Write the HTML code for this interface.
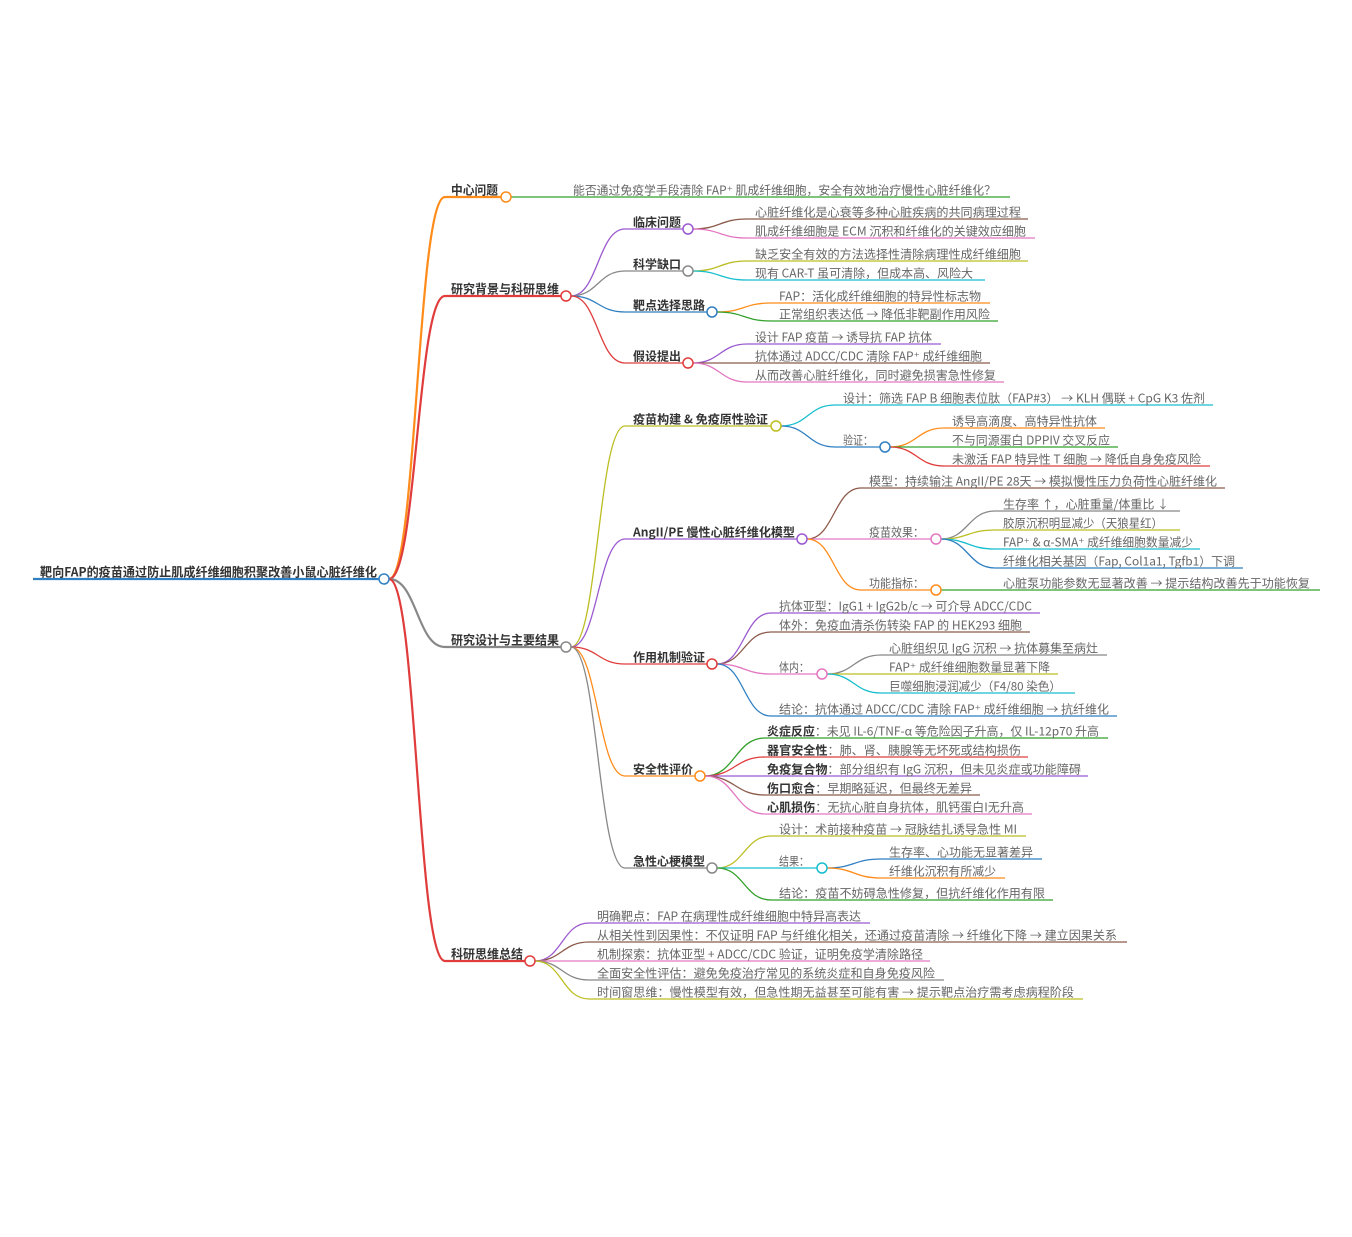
<!DOCTYPE html>
<html><head><meta charset="utf-8"><style>
html,body{margin:0;padding:0;background:#fff}
svg{display:block}
text{font-family:"Noto Sans CJK SC","Liberation Sans",sans-serif;font-size:12px;fill:#666;transform:translate(0px,1.5px)}
.b{font-weight:bold;fill:#333;font-size:12.5px}
.bt{font-weight:bold;fill:#333}
tspan.bt{transform:none}
path{fill:none;stroke-width:1.3}
.t{stroke-width:2.2}
circle{fill:#fff;stroke-width:1.5}
</style></head><body>
<svg width="1352" height="1237" viewBox="0 0 1352 1237" xmlns="http://www.w3.org/2000/svg">
<rect width="1352" height="1237" fill="#fff"/>
<!-- root -->
<path class="t" d="M33 579 L379 579" stroke="#2f7fc1"/>
<text class="b" x="40" y="575" textLength="337" lengthAdjust="spacingAndGlyphs">靶向FAP的疫苗通过防止肌成纤维细胞积聚改善小鼠心脏纤维化</text>

<!-- level1 -->
<path class="t" d="M389 579 C417 579 417 197 445 197 L501 197" stroke="#ff8c1a"/>
<path class="t" d="M389 579 C417 579 417 296 445 296 L561 296" stroke="#e03c3c"/>
<path class="t" d="M389 579 C417 579 417 647 445 647 L561 647" stroke="#888"/>
<path class="t" d="M389 579 C417 579 417 961 445 961 L525 961" stroke="#e03c3c"/>
<text class="b" x="451" y="193" textLength="47" lengthAdjust="spacingAndGlyphs">中心问题</text>
<text class="b" x="451" y="292" textLength="108" lengthAdjust="spacingAndGlyphs">研究背景与科研思维</text>
<text class="b" x="451" y="643" textLength="108" lengthAdjust="spacingAndGlyphs">研究设计与主要结果</text>
<text class="b" x="451" y="957" textLength="72" lengthAdjust="spacingAndGlyphs">科研思维总结</text>

<!-- 中心问题 leaf -->
<path d="M511 197 L1010 197" stroke="#33a02c"/>
<text x="573" y="193" textLength="423" lengthAdjust="spacingAndGlyphs">能否通过免疫学手段清除 FAP⁺ 肌成纤维细胞，安全有效地治疗慢性心脏纤维化？</text>

<!-- 研究背景 children -->
<path d="M571 296 C598 296 598 229 625 229 L683 229" stroke="#9b59d0"/>
<path d="M571 296 C598 296 598 271 625 271 L683 271" stroke="#888"/>
<path d="M571 296 C598 296 598 312 625 312 L707 312" stroke="#2f7fc1"/>
<path d="M571 296 C598 296 598 363 625 363 L683 363" stroke="#e03c3c"/>
<text class="bt" x="633" y="225" textLength="48" lengthAdjust="spacingAndGlyphs">临床问题</text>
<text class="bt" x="633" y="267" textLength="48" lengthAdjust="spacingAndGlyphs">科学缺口</text>
<text class="bt" x="633" y="308" textLength="72" lengthAdjust="spacingAndGlyphs">靶点选择思路</text>
<text class="bt" x="633" y="359" textLength="48" lengthAdjust="spacingAndGlyphs">假设提出</text>

<path d="M693 229 C720 229 720 219 747 219 L1028 219" stroke="#8c5a4a"/>
<path d="M693 229 C720 229 720 238 747 238 L1035 238" stroke="#e377c2"/>
<text x="755" y="215" textLength="266" lengthAdjust="spacingAndGlyphs">心脏纤维化是心衰等多种心脏疾病的共同病理过程</text>
<text x="755" y="234" textLength="271" lengthAdjust="spacingAndGlyphs">肌成纤维细胞是 ECM 沉积和纤维化的关键效应细胞</text>
<path d="M693 271 C720 271 720 261 747 261 L1028 261" stroke="#bcbd22"/>
<path d="M693 271 C720 271 720 280 747 280 L985 280" stroke="#17becf"/>
<text x="755" y="257" textLength="266" lengthAdjust="spacingAndGlyphs">缺乏安全有效的方法选择性清除病理性成纤维细胞</text>
<text x="755" y="276" textLength="218" lengthAdjust="spacingAndGlyphs">现有 CAR-T 虽可清除，但成本高、风险大</text>
<path d="M717 312 C744 312 744 303 771 303 L990 303" stroke="#ff8c1a"/>
<path d="M717 312 C744 312 744 321 771 321 L998 321" stroke="#33a02c"/>
<text x="779" y="299" textLength="202" lengthAdjust="spacingAndGlyphs">FAP：活化成纤维细胞的特异性标志物</text>
<text x="779" y="317" textLength="211" lengthAdjust="spacingAndGlyphs">正常组织表达低 → 降低非靶副作用风险</text>
<path d="M693 363 C720 363 720 344 747 344 L941 344" stroke="#9b59d0"/>
<path d="M693 363 C720 363 720 363 747 363 L990 363" stroke="#8c5a4a"/>
<path d="M693 363 C720 363 720 382 747 382 L1004 382" stroke="#e377c2"/>
<text x="755" y="340" textLength="177" lengthAdjust="spacingAndGlyphs">设计 FAP 疫苗 → 诱导抗 FAP 抗体</text>
<text x="755" y="359" textLength="227" lengthAdjust="spacingAndGlyphs">抗体通过 ADCC/CDC 清除 FAP⁺ 成纤维细胞</text>
<text x="755" y="378" textLength="241" lengthAdjust="spacingAndGlyphs">从而改善心脏纤维化，同时避免损害急性修复</text>

<!-- 研究设计 children -->
<path d="M571 647 C598 647 598 426 625 426 L771 426" stroke="#bcbd22"/>
<path d="M571 647 C598 647 598 539 625 539 L797 539" stroke="#9b59d0"/>
<path d="M571 647 C598 647 598 664 625 664 L707 664" stroke="#e03c3c"/>
<path d="M571 647 C598 647 598 776 625 776 L695 776" stroke="#ff8c1a"/>
<path d="M571 647 C598 647 598 868 625 868 L707 868" stroke="#888"/>
<text class="bt" x="633" y="422" textLength="135" lengthAdjust="spacingAndGlyphs">疫苗构建 &amp; 免疫原性验证</text>
<text class="bt" x="633" y="535" textLength="162" lengthAdjust="spacingAndGlyphs">AngII/PE 慢性心脏纤维化模型</text>
<text class="bt" x="633" y="660" textLength="72" lengthAdjust="spacingAndGlyphs">作用机制验证</text>
<text class="bt" x="633" y="772" textLength="60" lengthAdjust="spacingAndGlyphs">安全性评价</text>
<text class="bt" x="633" y="864" textLength="72" lengthAdjust="spacingAndGlyphs">急性心梗模型</text>

<!-- 疫苗构建 -->
<path d="M781 426 C808 426 808 405 835 405 L1213 405" stroke="#17becf"/>
<path d="M781 426 C808 426 808 447 835 447 L880 447" stroke="#2f7fc1"/>
<text x="843" y="401" textLength="362" lengthAdjust="spacingAndGlyphs">设计：筛选 FAP B 细胞表位肽（FAP#3） → KLH 偶联 + CpG K3 佐剂</text>
<text x="843" y="443" textLength="30" lengthAdjust="spacingAndGlyphs">验证：</text>
<path d="M890 447 C917 447 917 428 944 428 L1105 428" stroke="#ff8c1a"/>
<path d="M890 447 C917 447 917 447 944 447 L1118 447" stroke="#33a02c"/>
<path d="M890 447 C917 447 917 466 944 466 L1210 466" stroke="#e03c3c"/>
<text x="952" y="424" textLength="145" lengthAdjust="spacingAndGlyphs">诱导高滴度、高特异性抗体</text>
<text x="952" y="443" textLength="158" lengthAdjust="spacingAndGlyphs">不与同源蛋白 DPPIV 交叉反应</text>
<text x="952" y="462" textLength="249" lengthAdjust="spacingAndGlyphs">未激活 FAP 特异性 T 细胞 → 降低自身免疫风险</text>

<!-- AngII -->
<path d="M807 539 C834 539 834 488 861 488 L1225 488" stroke="#8c5a4a"/>
<path d="M807 539 C834 539 834 539 861 539 L931 539" stroke="#e377c2"/>
<path d="M807 539 C834 539 834 590 861 590 L931 590" stroke="#ff8c1a"/>
<text x="869" y="484" textLength="348" lengthAdjust="spacingAndGlyphs">模型：持续输注 AngII/PE 28天 → 模拟慢性压力负荷性心脏纤维化</text>
<text x="869" y="535" textLength="55" lengthAdjust="spacingAndGlyphs">疫苗效果：</text>
<text x="869" y="586" textLength="55" lengthAdjust="spacingAndGlyphs">功能指标：</text>
<path d="M941 539 C968 539 968 511 995 511 L1180 511" stroke="#888"/>
<path d="M941 539 C968 539 968 530 995 530 L1180 530" stroke="#bcbd22"/>
<path d="M941 539 C968 539 968 549 995 549 L1200 549" stroke="#17becf"/>
<path d="M941 539 C968 539 968 568 995 568 L1243 568" stroke="#2f7fc1"/>
<path d="M941 590 L1320 590" stroke="#33a02c"/>
<text x="1003" y="507" textLength="166" lengthAdjust="spacingAndGlyphs">生存率 ↑，心脏重量/体重比 ↓</text>
<text x="1003" y="526" textLength="160" lengthAdjust="spacingAndGlyphs">胶原沉积明显减少（天狼星红）</text>
<text x="1003" y="545" textLength="190" lengthAdjust="spacingAndGlyphs">FAP⁺ &amp; α-SMA⁺ 成纤维细胞数量减少</text>
<text x="1003" y="564" textLength="232" lengthAdjust="spacingAndGlyphs">纤维化相关基因（Fap, Col1a1, Tgfb1）下调</text>
<text x="1003" y="586" textLength="307" lengthAdjust="spacingAndGlyphs">心脏泵功能参数无显著改善 → 提示结构改善先于功能恢复</text>

<!-- 作用机制 -->
<path d="M717 664 C744 664 744 613 771 613 L1040 613" stroke="#9b59d0"/>
<path d="M717 664 C744 664 744 632 771 632 L1030 632" stroke="#8c5a4a"/>
<path d="M717 664 C744 664 744 674 771 674 L817 674" stroke="#e377c2"/>
<path d="M717 664 C744 664 744 716 771 716 L1117 716" stroke="#2f7fc1"/>
<text x="779" y="609" textLength="253" lengthAdjust="spacingAndGlyphs">抗体亚型：IgG1 + IgG2b/c → 可介导 ADCC/CDC</text>
<text x="779" y="628" textLength="243" lengthAdjust="spacingAndGlyphs">体外：免疫血清杀伤转染 FAP 的 HEK293 细胞</text>
<text x="779" y="670" textLength="30" lengthAdjust="spacingAndGlyphs">体内：</text>
<text x="779" y="712" textLength="330" lengthAdjust="spacingAndGlyphs">结论：抗体通过 ADCC/CDC 清除 FAP⁺ 成纤维细胞 → 抗纤维化</text>
<path d="M827 674 C854 674 854 655 881 655 L1107 655" stroke="#888"/>
<path d="M827 674 C854 674 854 674 881 674 L1058 674" stroke="#bcbd22"/>
<path d="M827 674 C854 674 854 693 881 693 L1075 693" stroke="#17becf"/>
<text x="889" y="651" textLength="209" lengthAdjust="spacingAndGlyphs">心脏组织见 IgG 沉积 → 抗体募集至病灶</text>
<text x="889" y="670" textLength="161" lengthAdjust="spacingAndGlyphs">FAP⁺ 成纤维细胞数量显著下降</text>
<text x="889" y="689" textLength="172" lengthAdjust="spacingAndGlyphs">巨噬细胞浸润减少（F4/80 染色）</text>

<!-- 安全性 -->
<path d="M705 776 C735 776 735 738 765 738 L1108 738" stroke="#33a02c"/>
<path d="M705 776 C735 776 735 757 765 757 L1028 757" stroke="#e03c3c"/>
<path d="M705 776 L1088 776" stroke="#9b59d0"/>
<path d="M705 776 C735 776 735 795 765 795 L980 795" stroke="#8c5a4a"/>
<path d="M705 776 C735 776 735 814 765 814 L1032 814" stroke="#e377c2"/>
<text x="767" y="734" textLength="332" lengthAdjust="spacingAndGlyphs"><tspan class="bt">炎症反应</tspan>：未见 IL-6/TNF-α 等危险因子升高，仅 IL-12p70 升高</text>
<text x="767" y="753" textLength="254" lengthAdjust="spacingAndGlyphs"><tspan class="bt">器官安全性</tspan>：肺、肾、胰腺等无坏死或结构损伤</text>
<text x="767" y="772" textLength="314" lengthAdjust="spacingAndGlyphs"><tspan class="bt">免疫复合物</tspan>：部分组织有 IgG 沉积，但未见炎症或功能障碍</text>
<text x="767" y="791" textLength="205" lengthAdjust="spacingAndGlyphs"><tspan class="bt">伤口愈合</tspan>：早期略延迟，但最终无差异</text>
<text x="767" y="810" textLength="257" lengthAdjust="spacingAndGlyphs"><tspan class="bt">心肌损伤</tspan>：无抗心脏自身抗体，肌钙蛋白I无升高</text>

<!-- 急性心梗 -->
<path d="M717 868 C744 868 744 836 771 836 L1026 836" stroke="#bcbd22"/>
<path d="M717 868 L817 868" stroke="#17becf"/>
<path d="M717 868 C744 868 744 900 771 900 L1053 900" stroke="#33a02c"/>
<text x="779" y="832" textLength="238" lengthAdjust="spacingAndGlyphs">设计：术前接种疫苗 → 冠脉结扎诱导急性 MI</text>
<text x="779" y="864" textLength="30" lengthAdjust="spacingAndGlyphs">结果：</text>
<text x="779" y="896" textLength="266" lengthAdjust="spacingAndGlyphs">结论：疫苗不妨碍急性修复，但抗纤维化作用有限</text>
<path d="M827 868 C854 868 854 859 881 859 L1042 859" stroke="#2f7fc1"/>
<path d="M827 868 C854 868 854 878 881 878 L1005 878" stroke="#ff8c1a"/>
<text x="889" y="855" textLength="144" lengthAdjust="spacingAndGlyphs">生存率、心功能无显著差异</text>
<text x="889" y="874" textLength="107" lengthAdjust="spacingAndGlyphs">纤维化沉积有所减少</text>

<!-- 科研思维总结 -->
<path d="M535 961 C562 961 562 923 589 923 L870 923" stroke="#9b59d0"/>
<path d="M535 961 C562 961 562 942 589 942 L1127 942" stroke="#8c5a4a"/>
<path d="M535 961 L930 961" stroke="#e377c2"/>
<path d="M535 961 C562 961 562 980 589 980 L944 980" stroke="#888"/>
<path d="M535 961 C562 961 562 999 589 999 L1083 999" stroke="#bcbd22"/>
<text x="597" y="919" textLength="264" lengthAdjust="spacingAndGlyphs">明确靶点：FAP 在病理性成纤维细胞中特异高表达</text>
<text x="597" y="938" textLength="520" lengthAdjust="spacingAndGlyphs">从相关性到因果性：不仅证明 FAP 与纤维化相关，还通过疫苗清除 → 纤维化下降 → 建立因果关系</text>
<text x="597" y="957" textLength="326" lengthAdjust="spacingAndGlyphs">机制探索：抗体亚型 + ADCC/CDC 验证，证明免疫学清除路径</text>
<text x="597" y="976" textLength="338" lengthAdjust="spacingAndGlyphs">全面安全性评估：避免免疫治疗常见的系统炎症和自身免疫风险</text>
<text x="597" y="995" textLength="477" lengthAdjust="spacingAndGlyphs">时间窗思维：慢性模型有效，但急性期无益甚至可能有害 → 提示靶点治疗需考虑病程阶段</text>

<!-- circles -->
<circle cx="384" cy="579" r="5" stroke="#2f7fc1"/>
<circle cx="506" cy="197" r="5" stroke="#ff8c1a"/>
<circle cx="566" cy="296" r="5" stroke="#e03c3c"/>
<circle cx="566" cy="647" r="5" stroke="#888"/>
<circle cx="530" cy="961" r="5" stroke="#e03c3c"/>
<circle cx="688" cy="229" r="5" stroke="#9b59d0"/>
<circle cx="688" cy="271" r="5" stroke="#888"/>
<circle cx="712" cy="312" r="5" stroke="#2f7fc1"/>
<circle cx="688" cy="363" r="5" stroke="#e03c3c"/>
<circle cx="776" cy="426" r="5" stroke="#bcbd22"/>
<circle cx="802" cy="539" r="5" stroke="#9b59d0"/>
<circle cx="712" cy="664" r="5" stroke="#e03c3c"/>
<circle cx="700" cy="776" r="5" stroke="#ff8c1a"/>
<circle cx="712" cy="868" r="5" stroke="#888"/>
<circle cx="885" cy="447" r="5" stroke="#2f7fc1"/>
<circle cx="936" cy="539" r="5" stroke="#e377c2"/>
<circle cx="936" cy="590" r="5" stroke="#ff8c1a"/>
<circle cx="822" cy="674" r="5" stroke="#e377c2"/>
<circle cx="822" cy="868" r="5" stroke="#17becf"/>
</svg>
</body></html>
